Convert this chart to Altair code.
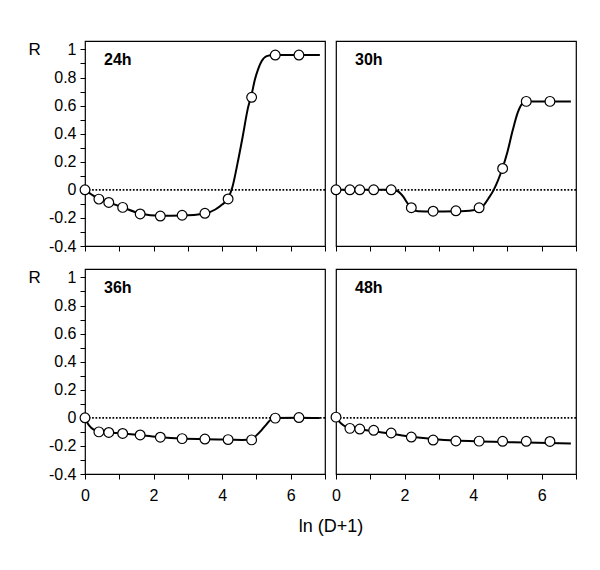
import altair as alt
import pandas as pd

# ---- data ----
x_pts = [0, 0.405, 0.693, 1.099, 1.609, 2.197, 2.833, 3.497, 4.174, 4.860, 5.549, 6.240]

r_24 = [0, -0.066, -0.090, -0.125, -0.172, -0.187, -0.181, -0.167, -0.065, 0.659, 0.960, 0.960]
r_30 = [0, 0, 0, 0, 0, -0.127, -0.152, -0.149, -0.128, 0.152, 0.630, 0.630]
r_36 = [0, -0.100, -0.104, -0.111, -0.122, -0.138, -0.148, -0.151, -0.155, -0.157, -0.002, 0.002]
r_48 = [0.005, -0.075, -0.080, -0.089, -0.108, -0.137, -0.158, -0.165, -0.166, -0.167, -0.167, -0.168]

c24_x = [0, 0.2, 0.4, 0.7, 1.1, 1.6, 2.2, 2.8, 3.5, 3.8, 4.0, 4.17, 4.3, 4.45, 4.6, 4.75, 4.86,
         4.95, 5.05, 5.15, 5.3, 5.5, 6.0, 6.5, 6.85]
c24_y = [0, -0.035, -0.065, -0.09, -0.125, -0.168, -0.185, -0.183, -0.168, -0.14, -0.105, -0.062,
         0.02, 0.19, 0.38, 0.58, 0.68, 0.78, 0.86, 0.915, 0.952, 0.96, 0.96, 0.96, 0.96]

c30_x = [0, 0.4, 0.8, 1.2, 1.6, 1.8, 1.95, 2.1, 2.25, 2.4, 2.8, 3.5, 4.0, 4.25, 4.45, 4.6, 4.85,
         5.0, 5.15, 5.3, 5.42, 5.55, 6.2, 6.85]
c30_y = [0, 0, 0, 0, 0, -0.01, -0.045, -0.1, -0.14, -0.153, -0.155, -0.153, -0.145, -0.125,
         -0.06, 0.0, 0.15, 0.27, 0.42, 0.55, 0.61, 0.63, 0.63, 0.63]

c36_x = [0, 0.08, 0.18, 0.3, 0.42, 0.7, 1.1, 1.6, 2.2, 2.8, 3.5, 4.2, 4.6, 4.86, 5.0, 5.15,
         5.3, 5.42, 5.55, 6.2, 6.85]
c36_y = [0, -0.04, -0.07, -0.09, -0.1, -0.104, -0.111, -0.122, -0.138, -0.148, -0.152, -0.155,
         -0.157, -0.155, -0.125, -0.087, -0.045, -0.012, -0.002, 0.0, -0.002]

c48_x = [0, 0.15, 0.3, 0.42, 0.72, 1.1, 1.6, 2.2, 2.8, 3.5, 4.2, 4.85, 5.5, 6.2, 6.85]
c48_y = [0, -0.04, -0.065, -0.074, -0.083, -0.095, -0.113, -0.135, -0.15, -0.162, -0.168,
         -0.172, -0.176, -0.18, -0.183]

panel_names = ["24h", "30h", "36h", "48h"]

y_ticks = [-0.4, -0.3, -0.2, -0.1, 0, 0.1, 0.2, 0.3, 0.4, 0.5, 0.6, 0.7, 0.8, 0.9, 1]
x_ticks = [0, 1, 2, 3, 4, 5, 6, 7]

FONT = "Liberation Sans"
W, H = 240, 205
xs = alt.Scale(domain=[0, 7], nice=False, zero=False)
ys = alt.Scale(domain=[-0.4, 1.06], nice=False, zero=False)


def panel(name, rv, cx, cy, left, bottom, xtitle=False):
    pts = pd.DataFrame({"x": x_pts, "r": rv})
    crv = pd.DataFrame({"x": cx, "r": cy})
    zero = pd.DataFrame({"r": [0]})
    lab = pd.DataFrame({"label": [name]})

    if bottom:
        xaxis_kw = dict(values=x_ticks,
                        labelExpr="datum.value % 2 == 0 ? datum.label : ''")
        if xtitle:
            xaxis_kw.update(title="ln (D+1)", titleX=W + 5.5, titleY=57,
                            titleAlign="center", titleBaseline="alphabetic",
                            titleFontSize=18, titleFontWeight="normal", titleFont=FONT,
                            titleColor="black")
        else:
            xaxis_kw.update(title=None)
        xaxis = alt.Axis(**xaxis_kw)
    else:
        xaxis = alt.Axis(values=x_ticks, labels=False, title=None)

    if left:
        yaxis = alt.Axis(values=y_ticks,
                         labelExpr="abs(round(datum.value*10)) % 2 == 0 ? '' + datum.value : ''",
                         title="R", titleAngle=0, titleX=-57, titleY=13,
                         titleAlign="left", titleBaseline="alphabetic",
                         titleFontSize=17, titleFontWeight="normal", titleFont=FONT,
                         titleColor="black")
    else:
        yaxis = None

    X = alt.X("x:Q", scale=xs, axis=xaxis)
    Y = alt.Y("r:Q", scale=ys, axis=yaxis)

    rule = alt.Chart(zero).mark_rule(color="black", strokeWidth=1.6,
                                      strokeDash=[1.7, 1.7]).encode(
        y=alt.Y("r:Q", scale=ys, axis=yaxis))
    line = alt.Chart(crv).mark_line(color="black", strokeWidth=2,
                                    interpolate="monotone").encode(x=X, y=Y)
    dots = alt.Chart(pts).mark_point(shape="circle", filled=True, fill="white",
                                     stroke="black", strokeWidth=1.2, size=95,
                                     opacity=1).encode(x=X, y=Y)
    txt = alt.Chart(lab).mark_text(align="left", baseline="alphabetic", font=FONT,
                                   fontSize=16, fontWeight="bold", color="black").encode(
        x=alt.value(19), y=alt.value(24), text="label:N")
    return alt.layer(rule, line, dots, txt).properties(width=W, height=H)


p24 = panel("24h", r_24, c24_x, c24_y, left=True, bottom=False)
p30 = panel("30h", r_30, c30_x, c30_y, left=False, bottom=False)
p36 = panel("36h", r_36, c36_x, c36_y, left=True, bottom=True, xtitle=True)
p48 = panel("48h", r_48, c48_x, c48_y, left=False, bottom=True)

chart = alt.concat(p24, p30, p36, p48, columns=2,
                   spacing={"row": 23, "column": 11}, bounds="flush").properties(
    padding={"left": 19, "top": 31, "right": 5, "bottom": 5},
    background="white"
).configure_view(
    stroke="black", strokeWidth=1.2
).configure_axis(
    domain=False, grid=False, ticks=True, tickColor="black", tickWidth=1, tickSize=5,
    labelFont=FONT, labelFontSize=16, labelColor="black", labelPadding=4,
    labelOverlap=False, labelFlush=False
).configure_axisX(labelPadding=8)

chart.save("out.html", embed_options={"renderer": "svg", "actions": False})
